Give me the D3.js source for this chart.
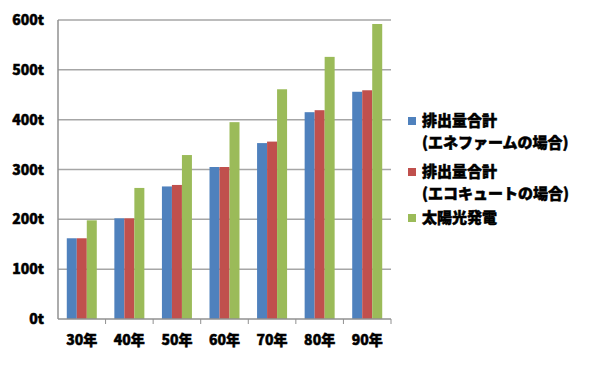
<!DOCTYPE html>
<html>
<head>
<meta charset="utf-8">
<script src="https://cdn.jsdelivr.net/npm/d3@7"></script>
<style>
  body { margin: 0; background: #fff; }
  text { font-family: "Noto Sans CJK JP", "DejaVu Sans", sans-serif; font-weight: 900; fill: #000; stroke: #000; stroke-width: 0.5px; }
</style>
</head>
<body>
<svg id="chart" width="606" height="365"></svg>
<script>
var years = ["30年", "40年", "50年", "60年", "70年", "80年", "90年"];
var seriesNames = [
    ["排出量合計", "(エネファームの場合)"],
    ["排出量合計", "(エコキュートの場合)"],
    ["太陽光発電"]
];
var enefarm = [162, 202, 266, 305, 353, 415, 456];
var ecocute = [162, 202, 269, 305, 356, 419, 459];
var solar   = [198, 263, 329, 395, 461, 526, 592];
var yTicks = [0, 100, 200, 300, 400, 500, 600];
var colors = ["#4f81bd", "#c0504d", "#9bbb59"];

var svg = d3.select("#chart");
var plotL = 58, plotR = 391, plotT = 20, plotB = 319;

var x = d3.scaleBand().domain(years).range([plotL, plotR]);
var xs = d3.scaleBand().domain([0, 1, 2]).range([0, 30]);
var y = d3.scaleLinear().domain([0, 600]).range([plotB, plotT]);

// grid
svg.append("g").selectAll("line")
    .data(yTicks.slice(1))
    .enter().append("line")
    .attr("x1", plotL).attr("x2", plotR)
    .attr("y1", function(d) { return y(d); })
    .attr("y2", function(d) { return y(d); })
    .attr("stroke", "#a6a6a6").attr("stroke-width", 1.5);

// y labels
svg.append("g").selectAll("text")
    .data(yTicks)
    .enter().append("text")
    .attr("x", 44).attr("y", function(d) { return y(d) + 5; })
    .attr("text-anchor", "end")
    .style("font-size", "14px")
    .text(function(d) { return d + "t"; });

// bars
var data = [enefarm, ecocute, solar];
var groups = svg.append("g").selectAll("g")
    .data(years)
    .enter().append("g")
    .attr("transform", function(d) { return "translate(" + (x(d) + x.bandwidth() / 2 - 15) + ",0)"; });

groups.selectAll("rect")
    .data(function(d, i) { return data.map(function(s, k) { return { k: k, v: s[i] }; }); })
    .enter().append("rect")
    .attr("x", function(d) { return xs(d.k); })
    .attr("width", xs.bandwidth())
    .attr("y", function(d) { return y(d.v); })
    .attr("height", function(d) { return plotB - y(d.v); })
    .attr("fill", function(d) { return colors[d.k]; });

// axes lines
svg.append("line").attr("x1", plotL).attr("x2", plotL).attr("y1", plotT).attr("y2", plotB)
    .attr("stroke", "#909090").attr("stroke-width", 1.5);
svg.append("line").attr("x1", plotL).attr("x2", plotR).attr("y1", plotB).attr("y2", plotB)
    .attr("stroke", "#909090").attr("stroke-width", 1.5);

// category tick marks
svg.append("g").selectAll("line")
    .data(years.slice(1).concat(["end"]))
    .enter().append("line")
    .attr("x1", function(d) { return d === "end" ? plotR : x(d); })
    .attr("x2", function(d) { return d === "end" ? plotR : x(d); })
    .attr("y1", plotB).attr("y2", plotB + 5)
    .attr("stroke", "#909090").attr("stroke-width", 1);

// x labels
svg.append("g").selectAll("text")
    .data(years)
    .enter().append("text")
    .attr("x", function(d) { return x(d) + x.bandwidth() / 2; })
    .attr("y", 345)
    .attr("text-anchor", "middle")
    .style("font-size", "14px")
    .text(function(d) { return d; });

// legend
var legendY = [117, 168, 214];
var legend = svg.append("g").selectAll("g")
    .data(seriesNames)
    .enter().append("g")
    .attr("transform", function(d, i) { return "translate(408," + legendY[i] + ")"; });

legend.append("rect")
    .attr("width", 8).attr("height", 8)
    .attr("fill", function(d, i) { return colors[i]; });

legend.selectAll("text")
    .data(function(d) { return d; })
    .enter().append("text")
    .attr("x", 14)
    .attr("y", function(d, j) { return 9 + j * 22; })
    .style("font-size", "15px")
    .text(function(d) { return d; });
</script>
</body>
</html>
